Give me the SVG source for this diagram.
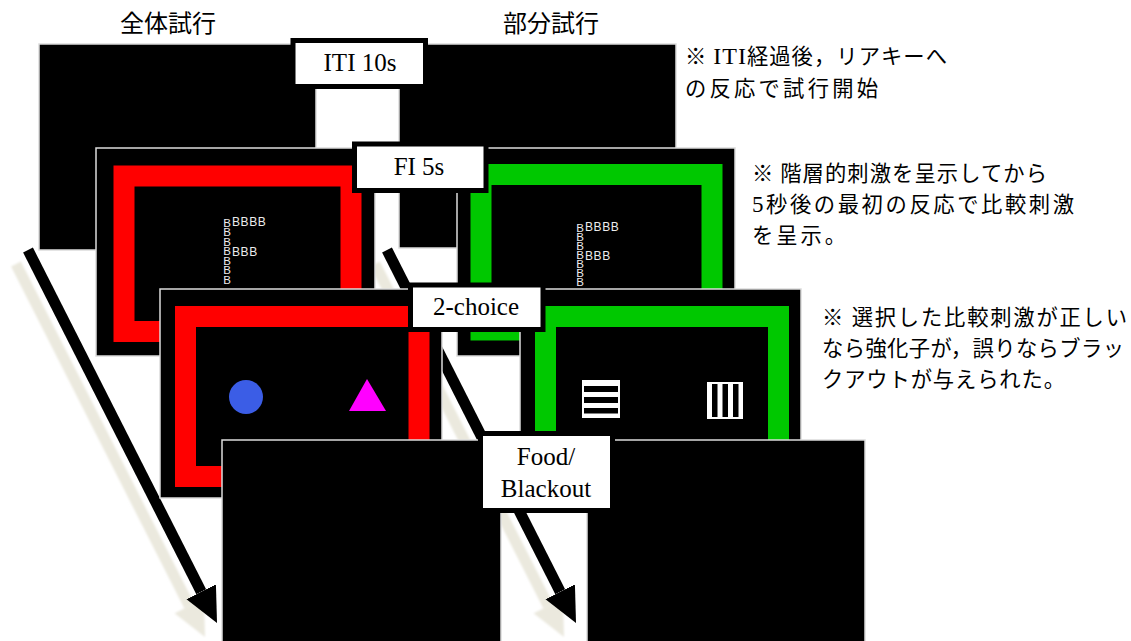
<svg xmlns="http://www.w3.org/2000/svg" width="1131" height="641" viewBox="0 0 1131 641">
<style>
.panel{fill:#000;stroke:#dcdcdc;stroke-width:1.5}
.red{fill:none;stroke:#ff0000;stroke-width:21}
.green{fill:none;stroke:#00c800;stroke-width:21}
.lbox{fill:#fff;stroke:#000;stroke-width:5}
.lbl{font-family:"Liberation Serif","Times New Roman",serif;font-size:25px;fill:#000;text-anchor:middle}
.jp{font-family:"Noto Sans CJK JP","Noto Sans",sans-serif;font-size:24px;fill:#000}
.note{font-family:"Noto Sans CJK JP","Noto Sans",sans-serif;font-size:21.3px;fill:#000}
.ser{font-family:"Liberation Serif",serif}
.bb{font-family:"Liberation Sans",Arial,sans-serif;font-size:12px;fill:#ececec;letter-spacing:0.6px}
.bbv{font-family:"Liberation Sans",Arial,sans-serif;font-size:11.5px;fill:#ececec;writing-mode:vertical-lr;text-orientation:upright}
.arrow{stroke:#000;stroke-width:11;fill:none}
.shadow{stroke:#ebe9de;stroke-width:11;fill:none}
</style>
<defs>
<marker id="head" markerUnits="userSpaceOnUse" markerWidth="40" markerHeight="40" viewBox="0 -20 40 40" refX="0" refY="0" orient="auto">
<path d="M0,-16.5 L35,0 L0,16.5 Z" fill="#000"/>
</marker>
<marker id="headShadow" markerUnits="userSpaceOnUse" markerWidth="40" markerHeight="40" viewBox="0 -20 40 40" refX="0" refY="0" orient="auto">
<path d="M0,-16.5 L35,0 L0,16.5 Z" fill="#ebe9de"/>
</marker>
<filter id="soft" x="-10%" y="-10%" width="120%" height="120%"><feGaussianBlur stdDeviation="0.8"/></filter>
</defs>

<g id="titles">
<text class="jp" x="168" y="31.5" text-anchor="middle">全体試行</text>
<text class="jp" x="551" y="31.5" text-anchor="middle">部分試行</text>
</g>

<g id="layer-iti">
<rect class="panel" x="39" y="44" width="277" height="206"/>
<rect class="panel" x="399" y="44" width="277" height="204"/>
<g id="label-iti">
<rect class="lbox" x="293" y="40.5" width="132.5" height="46"/>
<text class="lbl" x="360" y="71">ITI 10s</text>
</g>
</g>

<g id="connectors">
<g filter="url(#soft)">
<line class="shadow" x1="16" y1="264" x2="189.2" y2="605.8" marker-end="url(#headShadow)"/>
<line class="shadow" x1="375" y1="264" x2="548.2" y2="605.8" marker-end="url(#headShadow)"/>
</g>
<line class="arrow" x1="28" y1="250" x2="201.2" y2="591.8" marker-end="url(#head)"/>
<line class="arrow" x1="387" y1="250" x2="560.2" y2="591.8" marker-end="url(#head)"/>
</g>

<g id="layer-fi">
<g id="fi-left">
<rect class="panel" x="96" y="148" width="279" height="208"/>
<rect class="red" x="124" y="176" width="227" height="155.5"/>
<text class="bbv" x="227" y="216.5" textLength="69.3" lengthAdjust="spacing">BBBBBBB</text>
<text class="bb" x="232" y="226">BBBB</text>
<text class="bb" x="232" y="255.7">BBB</text>
</g>
<g id="fi-right">
<rect class="panel" x="457" y="148" width="278" height="208"/>
<rect class="green" x="481" y="174.5" width="231" height="155.5"/>
<text class="bbv" x="580" y="221.5" textLength="66.5" lengthAdjust="spacing">BBBBBBB</text>
<text class="bb" x="585" y="231">BBBB</text>
<text class="bb" x="585" y="259.5">BBB</text>
</g>
<g id="label-fi">
<rect class="lbox" x="354.5" y="144" width="131.5" height="46.5"/>
<text class="lbl" x="419" y="175">FI 5s</text>
</g>
</g>

<g id="layer-choice">
<g id="choice-left">
<rect class="panel" x="160" y="289" width="282" height="209"/>
<rect class="red" x="185.5" y="316.5" width="233.5" height="160"/>
<circle cx="246" cy="397" r="17" fill="#3b5de6"/>
<polygon points="367,379 349,411 386,411" fill="#ff00ff"/>
</g>
<g id="choice-right">
<rect class="panel" x="520" y="289" width="281" height="209"/>
<rect class="green" x="545.5" y="316.5" width="233" height="160"/>
<rect x="582" y="380" width="38" height="38" fill="#fff"/>
<rect x="584" y="386" width="34" height="6" fill="#000"/>
<rect x="584" y="397" width="34" height="6" fill="#000"/>
<rect x="584" y="408" width="34" height="5.5" fill="#000"/>
<rect x="707" y="382" width="36" height="37" fill="#fff"/>
<rect x="712" y="384" width="5.5" height="33" fill="#000"/>
<rect x="722.5" y="384" width="5.5" height="33" fill="#000"/>
<rect x="733" y="384" width="5.5" height="33" fill="#000"/>
</g>
<g id="label-choice">
<rect class="lbox" x="410.5" y="285" width="132.5" height="44.5"/>
<text class="lbl" x="476" y="315">2-choice</text>
</g>
</g>

<g id="layer-food">
<rect class="panel" x="222" y="440" width="279" height="210"/>
<rect class="panel" x="587" y="440" width="278" height="210"/>
<g id="label-food">
<rect class="lbox" x="480.5" y="433.5" width="132" height="77"/>
<text class="lbl" x="546" y="465">Food/</text>
<text class="lbl" x="546" y="497">Blackout</text>
</g>
</g>

<g id="note-iti">
<text class="note" x="685" y="64" textLength="262" lengthAdjust="spacing">※ <tspan class="ser" font-size="24px">ITI</tspan>経過後，リアキーへ</text>
<text class="note" x="685" y="96" textLength="193" lengthAdjust="spacing">の反応で試行開始</text>
</g>
<g id="note-fi">
<text class="note" x="752" y="180.5" textLength="295" lengthAdjust="spacing">※ 階層的刺激を呈示してから</text>
<text class="note" x="752" y="211.5" textLength="322" lengthAdjust="spacing"><tspan class="ser" font-size="23px">5</tspan>秒後の最初の反応で比較刺激</text>
<text class="note" x="752" y="242.5" textLength="94" lengthAdjust="spacing">を呈示。</text>
</g>
<g id="note-choice">
<text class="note" x="822" y="325" textLength="305" lengthAdjust="spacing">※ 選択した比較刺激が正しい</text>
<text class="note" x="822" y="356" textLength="302" lengthAdjust="spacing">なら強化子が，誤りならブラッ</text>
<text class="note" x="822" y="387" textLength="243" lengthAdjust="spacing">クアウトが与えられた。</text>
</g>
</svg>
